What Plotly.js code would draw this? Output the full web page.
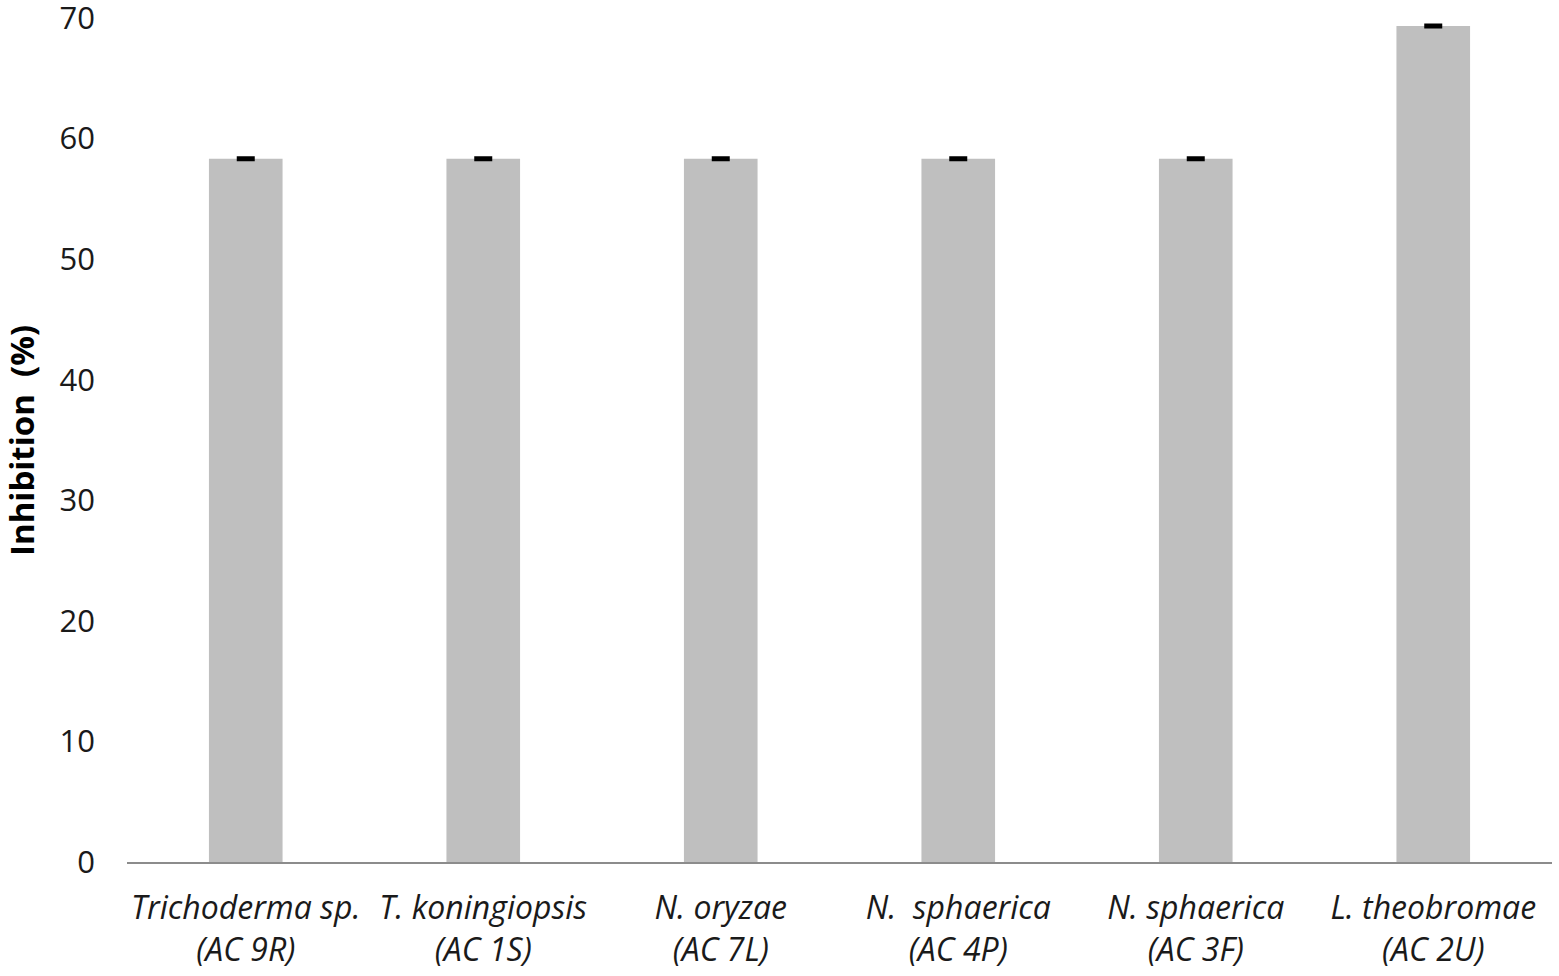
<!DOCTYPE html>
<html>
<head>
<meta charset="utf-8">
<script src="https://cdn.plot.ly/plotly-3.0.1.min.js"></script>
<style>html,body{margin:0;padding:0;background:#fff;}#chart{width:1559px;height:976px;}</style>
</head>
<body>
<div id="chart"></div>
<script>
const categories = [
  "Trichoderma sp.<br>(AC 9R)",
  "T. koningiopsis<br>(AC 1S)",
  "N. oryzae<br>(AC 7L)",
  "N.\u00a0\u00a0sphaerica<br>(AC 4P)",
  "N. sphaerica<br>(AC 3F)",
  "L. theobromae<br>(AC 2U)"
];
const inhibition = [58.33, 58.33, 58.33, 58.33, 58.33, 69.33];
const errors = [0.1, 0.1, 0.1, 0.1, 0.1, 0.1];
const yTicks = [0, 10, 20, 30, 40, 50, 60, 70];
const yTitle = 'Inhibition\u00a0\u00a0(%)';

const trace = {
  type: 'bar',
  x: categories,
  y: inhibition,
  marker: {color: '#bfbfbf'},
  error_y: {type: 'data', array: errors, visible: true, color: '#000000', thickness: 2.5, width: 9},
  hoverinfo: 'skip',
  cliponaxis: false
};

const layout = {
  width: 1559,
  height: 976,
  margin: {l: 127, r: 7, t: 18, b: 114},
  paper_bgcolor: '#ffffff',
  plot_bgcolor: '#ffffff',
  showlegend: false,
  bargap: 0.69,
  font: {family: '"Open Sans", Lato, sans-serif', color: '#1a1a1a'},
  xaxis: {
    showline: true,
    linecolor: '#8c8c8c',
    linewidth: 2,
    showgrid: false,
    zeroline: false,
    ticks: '',
    ticklabelstandoff: 17,
    tickfont: {family: '"Open Sans", sans-serif', size: 32, style: 'italic', color: '#1a1a1a'},
    tickangle: 0,
    automargin: false
  },
  yaxis: {
    range: [0, 70],
    tickvals: yTicks,
    ticktext: yTicks.map(String),
    ticklabeloverflow: 'allow',
    showline: false,
    showgrid: false,
    zeroline: false,
    ticks: '',
    ticklabelstandoff: 31,
    tickfont: {family: '"Open Sans", sans-serif', size: 31, color: '#1a1a1a'},
    automargin: false
  },
  annotations: [{
    text: yTitle,
    xref: 'paper', yref: 'paper',
    x: -0.0744, y: 0.5,
    xanchor: 'center', yanchor: 'middle',
    textangle: -90,
    showarrow: false,
    font: {family: '"Open Sans", sans-serif', size: 33, weight: 'bold', color: '#000000'}
  }]
};

Plotly.newPlot('chart', [trace], layout, {displayModeBar: false, staticPlot: true});
</script>
</body>
</html>
